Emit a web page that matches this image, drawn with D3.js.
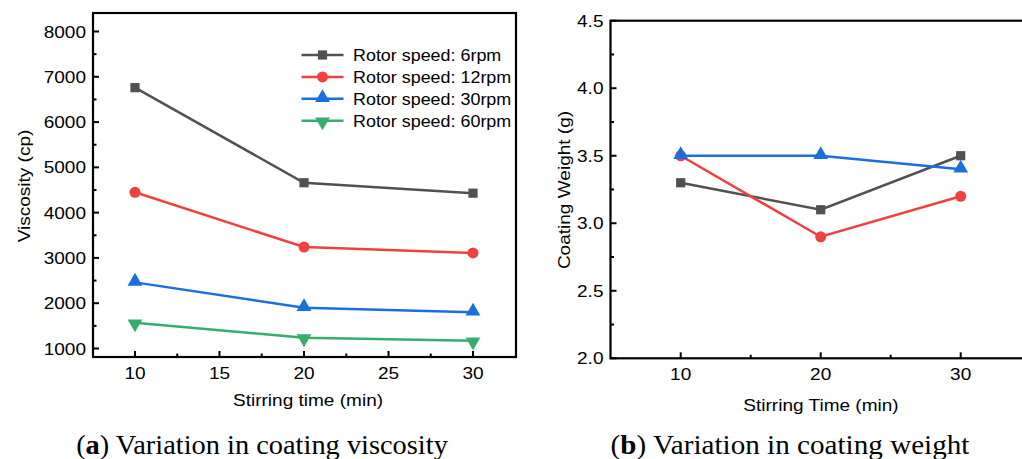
<!DOCTYPE html>
<html>
<head>
<meta charset="utf-8">
<script src="https://cdn.jsdelivr.net/npm/d3@7"></script>
<style>
  body { margin: 0; background: #fff; }
  svg { display: block; }
  text { font-family: "Liberation Sans", Arial, sans-serif; fill: #000; }
  .caption { font-family: "Liberation Serif", "Times New Roman", serif; font-size: 28px; }
</style>
</head>
<body>
<svg id="chart" width="1022" height="459"></svg>
<script>
// stirring times (min)
let times = [10, 20, 30];

// (a) viscosity (cp) per rotor speed
let seriesNames = ['Rotor speed: 6rpm', 'Rotor speed: 12rpm', 'Rotor speed: 30rpm', 'Rotor speed: 60rpm'];
let visc6 = [6760, 4660, 4430];
let visc12 = [4450, 3240, 3110];
let visc30 = [2460, 1900, 1800];
let visc60 = [1570, 1240, 1170];

// (b) coating weight (g)
let weight6 = [3.3, 3.1, 3.5];
let weight12 = [3.5, 2.9, 3.2];
let weight30 = [3.5, 3.5, 3.4];

let viscTicks = [1000, 2000, 3000, 4000, 5000, 6000, 7000, 8000];
let weightTicks = [2.0, 2.5, 3.0, 3.5, 4.0, 4.5];
let timeTicksA = [10, 15, 20, 25, 30];
let timeTicksB = [10, 20, 30];

// styles
let colors = ['#515151', '#F14040', '#1A6FDF', '#37AD6B'];
let shapes = [d3.symbolSquare, d3.symbolCircle, d3.symbolTriangle, 'down'];
let stretch = 1.12; // sans text in the figure is a bit wider than Liberation Sans

let svg = d3.select('#chart');

// text placed with a stretch along its own direction
function label(g, x, y, str, size, anchor, rotate) {
    return g.append('text')
        .attr('transform', 'translate(' + x + ',' + y + ')' + (rotate ? ' rotate(' + rotate + ')' : '') + ' scale(' + stretch + ',1)')
        .attr('text-anchor', anchor)
        .style('font-size', size + 'px')
        .text(str);
}

function marker(g, shape, color, cx, cy) {
    if (shape === 'down') {
        g.append('path')
            .attr('d', d3.symbol(d3.symbolTriangle, 95)())
            .attr('transform', 'translate(' + cx + ',' + (cy + 1) + ') rotate(180)')
            .attr('fill', color);
    } else {
        let size = shape === d3.symbolSquare ? 85 : (shape === d3.symbolCircle ? 95 : 95);
        let dy = shape === d3.symbolTriangle ? -1 : 0;
        g.append('path')
            .attr('d', d3.symbol(shape, size)())
            .attr('transform', 'translate(' + cx + ',' + (cy + dy) + ')')
            .attr('fill', color);
    }
}

function drawPanel(opt) {
    let g = svg.append('g');
    let x = d3.scaleLinear().domain(opt.xDomain).range(opt.xRange);
    let y = d3.scaleLinear().domain(opt.yDomain).range(opt.yRange);
    let f = opt.frame; // {left, right, top, bottom}

    // minor ticks
    let yStep = opt.yTicks[1] - opt.yTicks[0];
    let xStep = opt.xTicks[1] - opt.xTicks[0];
    let yMinor = [];
    for (let i = 0; i < opt.yTicks.length - 1; i++) yMinor.push(opt.yTicks[i] + yStep / 2);
    let xMinor = [];
    for (let i = 0; i < opt.xTicks.length - 1; i++) xMinor.push(opt.xTicks[i] + xStep / 2);

    // series
    opt.series.forEach(function (s, i) {
        let line = d3.line().x((d, j) => x(times[j])).y(d => y(d));
        g.append('path')
            .datum(s)
            .attr('d', line)
            .attr('fill', 'none')
            .attr('stroke', colors[i])
            .attr('stroke-width', 2.5);
    });
    opt.series.forEach(function (s, i) {
        s.forEach(function (v, j) {
            marker(g, shapes[i], colors[i], x(times[j]), y(v));
        });
    });

    // frame
    g.append('rect')
        .attr('x', f.left).attr('y', f.top)
        .attr('width', f.right - f.left).attr('height', f.bottom - f.top)
        .attr('fill', 'none').attr('stroke', '#000').attr('stroke-width', 2.2);

    // y ticks (inward)
    g.selectAll('.ymaj').data(opt.yTicks).enter().append('line')
        .attr('x1', f.left).attr('x2', f.left + 6)
        .attr('y1', d => y(d)).attr('y2', d => y(d))
        .attr('stroke', '#000').attr('stroke-width', 2);
    g.selectAll('.ymin').data(yMinor).enter().append('line')
        .attr('x1', f.left).attr('x2', f.left + 3.5)
        .attr('y1', d => y(d)).attr('y2', d => y(d))
        .attr('stroke', '#000').attr('stroke-width', 2);
    opt.yTicks.forEach(d => label(g, f.left - 7, y(d) + 6, opt.yFormat(d), 17, 'end'));

    // x ticks (inward)
    g.selectAll('.xmaj').data(opt.xTicks).enter().append('line')
        .attr('x1', d => x(d)).attr('x2', d => x(d))
        .attr('y1', f.bottom).attr('y2', f.bottom - 6)
        .attr('stroke', '#000').attr('stroke-width', 2);
    g.selectAll('.xmin').data(xMinor).enter().append('line')
        .attr('x1', d => x(d)).attr('x2', d => x(d))
        .attr('y1', f.bottom).attr('y2', f.bottom - 3.5)
        .attr('stroke', '#000').attr('stroke-width', 2);
    opt.xTicks.forEach(d => label(g, x(d), f.bottom + 22, d, 17, 'middle'));

    // axis titles
    label(g, opt.yTitlePos[0], opt.yTitlePos[1], opt.yTitle, 17, 'middle', -90);
    label(g, opt.xTitlePos[0], opt.xTitlePos[1], opt.xTitle, 17, 'middle');

    // caption, widened to the figure's width
    let cap = g.append('text').attr('class', 'caption')
        .attr('text-anchor', 'middle');
    cap.append('tspan').text('(');
    cap.append('tspan').style('font-weight', 'bold').text(opt.captionLetter);
    cap.append('tspan').text(') ' + opt.caption);
    let w = cap.node().getComputedTextLength();
    cap.attr('transform', 'translate(' + opt.captionPos[0] + ',' + opt.captionPos[1] + ') scale(' + (opt.captionWidth / w) + ',1)');

    return { g: g, x: x, y: y };
}

let a = drawPanel({
    xDomain: [10, 30], xRange: [135, 473],
    yDomain: [1000, 8000], yRange: [348.5, 31.5],
    frame: { left: 93, right: 516, top: 13, bottom: 357 },
    xTicks: timeTicksA, yTicks: viscTicks, yFormat: d => d,
    series: [visc6, visc12, visc30, visc60],
    yTitle: 'Viscosity (cp)', yTitlePos: [30, 186],
    xTitle: 'Stirring time (min)', xTitlePos: [308, 406],
    captionLetter: 'a', caption: 'Variation in coating viscosity', captionPos: [262, 454], captionWidth: 372
});

let b = drawPanel({
    xDomain: [10, 30], xRange: [680.7, 960.7],
    yDomain: [2, 4.5], yRange: [358.3, 20.7],
    frame: { left: 610.5, right: 1035, top: 20.7, bottom: 358.3 },
    xTicks: timeTicksB, yTicks: weightTicks, yFormat: d3.format('.1f'),
    series: [weight6, weight12, weight30],
    yTitle: 'Coating Weight (g)', yTitlePos: [570, 190],
    xTitle: 'Stirring Time (min)', xTitlePos: [821, 411],
    captionLetter: 'b', caption: 'Variation in coating weight', captionPos: [790, 454], captionWidth: 359
});

// legend in panel (a)
let legend = a.g.append('g');
let legendY = d3.scalePoint().domain(seriesNames).range([55, 120.7]);
seriesNames.forEach(function (name, i) {
    let yy = legendY(name);
    legend.append('line')
        .attr('x1', 301.5).attr('x2', 343.5)
        .attr('y1', yy).attr('y2', yy)
        .attr('stroke', colors[i]).attr('stroke-width', 2.5);
    marker(legend, shapes[i], colors[i], 322.5, yy);
    label(legend, 353, yy + 6, name, 16, 'start');
});
</script>
</body>
</html>
